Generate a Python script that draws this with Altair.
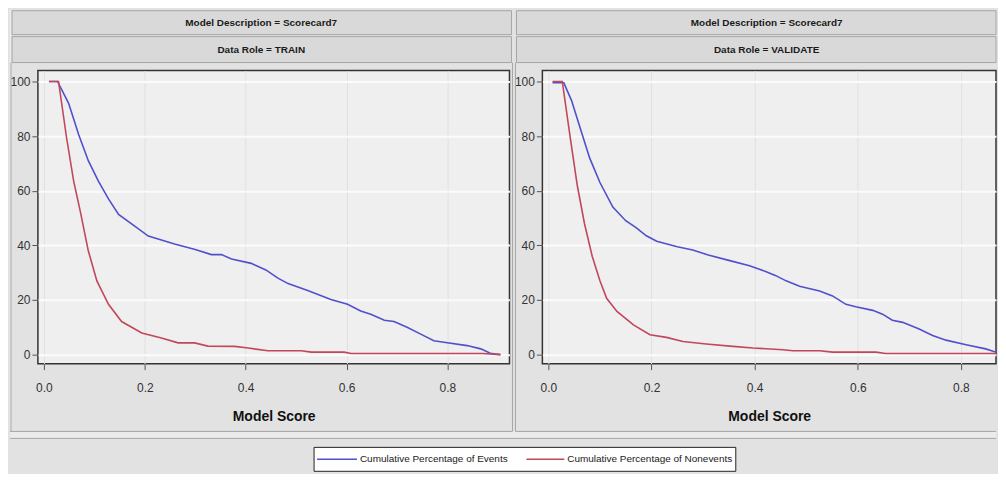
import altair as alt
import pandas as pd

SERIES = ["Cumulative Percentage of Events", "Cumulative Percentage of Nonevents"]
COLORS = ["#5050cc", "#c0485a"]
MODEL = "Model Description = Scorecard7"
ROLES = ["Data Role = TRAIN", "Data Role = VALIDATE"]
X_TICKS = [0.0, 0.2, 0.4, 0.6, 0.8]
Y_TICKS = [0, 20, 40, 60, 80, 100]

train_events_x = [0.01, 0.027, 0.049, 0.069, 0.088, 0.108, 0.128, 0.148, 0.18, 0.207, 0.259, 0.30,
                  0.332, 0.352, 0.372, 0.411, 0.44, 0.464, 0.484, 0.523, 0.569, 0.602, 0.628,
                  0.648, 0.675, 0.694, 0.72, 0.747, 0.773, 0.793, 0.839, 0.866, 0.885, 0.905]
train_events_y = [100, 100, 92, 80.5, 71, 63.5, 57, 51.3, 47, 43.4, 40.5, 38.5,
                  36.6, 36.6, 35, 33.4, 31, 28, 26, 23.5, 20.2, 18.4, 16,
                  14.8, 12.6, 12.1, 10, 7.5, 5.1, 4.5, 3.3, 2.1, 0.5, 0]
train_non_x = [0.01, 0.029, 0.045, 0.059, 0.072, 0.088, 0.105, 0.128, 0.154, 0.194, 0.233, 0.266,
               0.299, 0.325, 0.378, 0.405, 0.444, 0.51, 0.53, 0.595, 0.609, 0.87, 0.905]
train_non_y = [100, 100, 79.3, 63.5, 52.5, 38, 27, 18.4, 12.1, 7.9, 6.1, 4.3,
               4.3, 3.1, 3.0, 2.4, 1.4, 1.4, 0.9, 0.9, 0.4, 0.4, 0]

val_events_x = [0.008, 0.03, 0.045, 0.06, 0.08, 0.1, 0.125, 0.15, 0.17, 0.19, 0.21, 0.25, 0.28,
                0.31, 0.35, 0.39, 0.42, 0.44, 0.461, 0.487, 0.526, 0.551, 0.577, 0.596, 0.629,
                0.648, 0.667, 0.687, 0.719, 0.745, 0.771, 0.81, 0.848, 0.873, 0.885]
val_events_y = [99.5, 99.5, 93, 84, 72, 63, 54, 49, 46.5, 43.5, 41.5, 39.5, 38.3,
                36.5, 34.5, 32.5, 30.5, 29, 27, 25, 23.3, 21.5, 18.4, 17.5, 16.2,
                14.8, 12.6, 11.8, 9.4, 7.0, 5.3, 3.6, 2.1, 0.6, 0]
val_non_x = [0.008, 0.027, 0.042, 0.056, 0.07, 0.085, 0.1, 0.113, 0.133, 0.165, 0.197, 0.229,
             0.261, 0.306, 0.358, 0.397, 0.455, 0.474, 0.526, 0.551, 0.635, 0.654, 0.885]
val_non_y = [100, 100, 80, 62, 48, 36, 27, 20.6, 15.8, 10.9, 7.3, 6.3,
             4.8, 3.9, 3.0, 2.4, 1.8, 1.4, 1.4, 0.9, 0.9, 0.4, 0.4]

FONT = "Liberation Sans, Arial, sans-serif"
BG = "#e2e2e2"
BAND = "#d9d9d9"
EDGE = "#a6a6a6"
ONE = alt.Data(values=[{"k": 1}])


def make_df(ex, ey, nx, ny):
    recs = [{"score": x, "pct": y, "series": SERIES[0]} for x, y in zip(ex, ey)]
    recs += [{"score": x, "pct": y, "series": SERIES[1]} for x, y in zip(nx, ny)]
    return pd.DataFrame(recs)


def box(x1, x2, y1, y2, fill, stroke=None):
    kw = dict(fill=fill)
    if stroke:
        kw.update(stroke=stroke, strokeWidth=1)
    return alt.Chart(ONE).mark_rect(**kw).encode(
        x=alt.value(x1), x2=alt.value(x2), y=alt.value(y1), y2=alt.value(y2))


def rule(x1, x2, y1, y2, color=EDGE, width=1):
    return alt.Chart(ONE).mark_rule(color=color, strokeWidth=width).encode(
        x=alt.value(x1), x2=alt.value(x2), y=alt.value(y1), y2=alt.value(y2))


def label(txt, x, y, size=10, bold=True, align="center"):
    return alt.Chart(ONE).mark_text(
        text=txt, font=FONT, fontSize=size, fontWeight="bold" if bold else "normal",
        color="#1a1a1a", align=align, baseline="middle").encode(x=alt.value(x), y=alt.value(y))


def lines(df, xdom):
    return alt.Chart(df).mark_line(clip=True, strokeWidth=1.6).encode(
        x=alt.X("score:Q", title="Model Score",
                scale=alt.Scale(domain=xdom, nice=False, zero=False),
                axis=alt.Axis(values=X_TICKS, format=".1f", gridColor="#e0e0e0", gridWidth=1,
                              labelPadding=13, titlePadding=16, labelFlush=False)),
        y=alt.Y("pct:Q", title=None,
                scale=alt.Scale(domain=[-3.3, 104], nice=False, zero=False),
                axis=alt.Axis(values=Y_TICKS, gridColor="#fbfbfb", gridWidth=2, labelPadding=2)),
        color=alt.Color("series:N", scale=alt.Scale(domain=SERIES, range=COLORS), legend=None),
    )


LW, RW, H = 473, 455, 294
FULL = 961  # right edge of the whole figure, in left-panel coordinates
train_df = make_df(train_events_x, train_events_y, train_non_x, train_non_y)
val_df = make_df(val_events_x, val_events_y, val_non_x, val_non_y)

# legend (drawn in the left panel's coordinates, spanning the bottom strip)
LEG_Y = 390
legend_layers = [
    box(277, 700, 378, 402, "white", "#222222"),
    rule(280, 320, LEG_Y, LEG_Y, COLORS[0], 1.5),
    label(SERIES[0], 323, LEG_Y, 10, False, "left"),
    rule(490, 528, LEG_Y, LEG_Y, COLORS[1], 1.5),
    label(SERIES[1], 531, LEG_Y, 10, False, "left"),
]

left = alt.layer(
    box(-28, -27, -61, 403, "#eeeeee"),
    box(-26, 475, -60, -36, BAND, EDGE),
    box(-26, 475, -34, -8, BAND, EDGE),
    label(MODEL, 224, -48),
    label(ROLES[0], 224, -21),
    rule(-27, -27, -8, 362),
    rule(476, 476, -8, 362),
    box(-28, FULL, 362, 369, "#ebebeb"),
    rule(-28, 476, 362, 362),
    rule(-28, FULL, 369, 369),
    box(-28, FULL, 370, 403, BG),
    *legend_layers,
    lines(train_df, [-0.0119, 0.923]),
).properties(width=LW, height=H)

right = alt.layer(
    box(-26, RW, -60, -36, BAND, EDGE),
    box(-26, RW, -34, -8, BAND, EDGE),
    label(MODEL, 225, -48),
    label(ROLES[1], 225, -21),
    rule(-27, -27, -8, 362),
    rule(-27, RW, 362, 362),
    lines(val_df, [-0.0116, 0.868]),
).properties(width=RW, height=H)

chart = alt.hconcat(left, right, spacing=33, bounds="flush").resolve_scale(
    x="independent", y="independent", color="shared"
).properties(
    padding={"left": 0, "top": 0, "right": 0, "bottom": 0}, background=BG
).configure_view(
    fill="#efefef", stroke="#333333", strokeWidth=1.5
).configure_axis(
    labelFont=FONT, labelFontSize=12, labelColor="#333333",
    titleFont=FONT, titleFontSize=14, titleFontWeight="bold", titleColor="#111111",
    tickColor="#555555", tickSize=6, domain=False
)

chart.save("out.html", embed_options={"renderer": "svg", "actions": False})
